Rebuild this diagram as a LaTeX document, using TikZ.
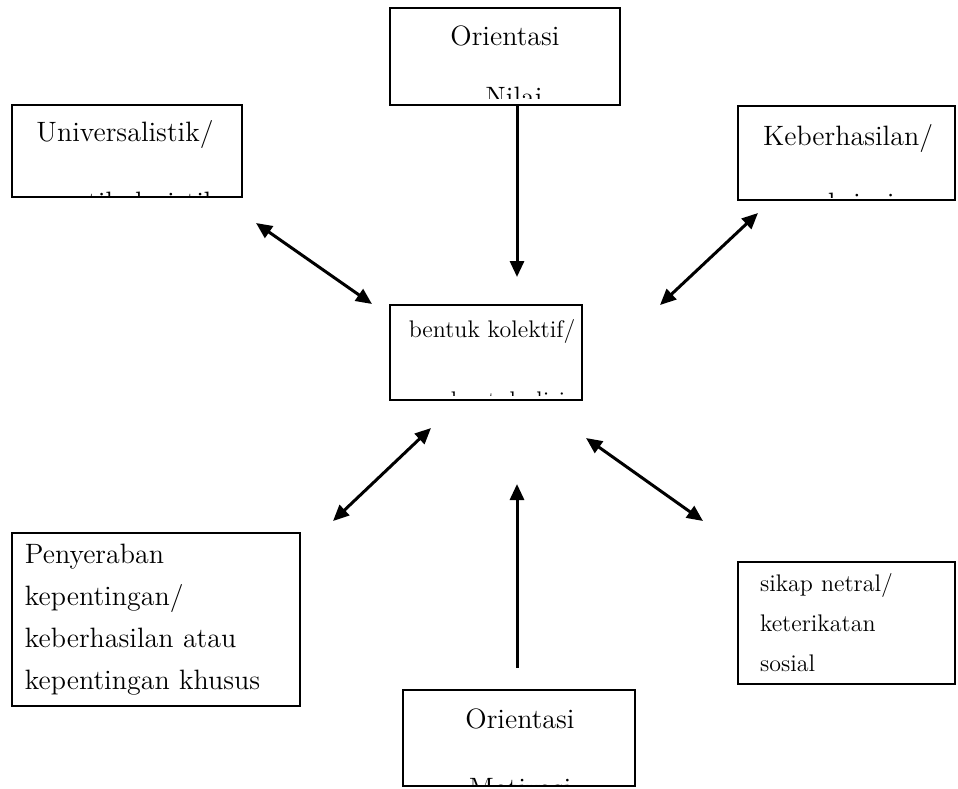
\documentclass[tikz,border=0pt]{standalone}
\usepackage{tikz}
\usetikzlibrary{arrows.meta}

\begin{document}
\begin{tikzpicture}[x=0.5pt,y=-0.5pt,
		kotak/.style={draw,line width=1pt,inner sep=0pt},
		teks/.style={font=\fontsize{14}{21}\selectfont,anchor=base,inner sep=0pt},
		kecil/.style={font=\fontsize{12}{20}\selectfont},
		isi/.style={font=\fontsize{14}{21}\selectfont,align=left},
		panah/.style={line width=1.5pt,-{Triangle[length=8pt,width=7pt]}},
		panahdua/.style={line width=1.5pt,{Triangle[length=8pt,width=7pt]}-{Triangle[length=8pt,width=7pt]}}]
		
		\useasboundingbox (0,0) rectangle (958,788);
		
		% --- boxes whose second line is cut off ---
		\node[kotak,minimum width=115pt,minimum height=48.5pt] (nilai) at (505,56.5) {};
		\node[kotak,minimum width=115pt,minimum height=46pt]   (univ)  at (127,151) {};
		\node[kotak,minimum width=108.5pt,minimum height=47pt] (hasil) at (846.5,153) {};
		\node[kotak,minimum width=96pt,minimum height=47.5pt]  (kolektif) at (486,352.5) {};
		\node[kotak,minimum width=116pt,minimum height=48pt]   (motivasi) at (519,738) {};
		
		% texts, clipped a little above the lower border
		\begin{scope}
			\clip (nilai.north west) rectangle ([yshift=4pt]nilai.south east);
			\node[teks] (nilai1) at (505,45) {Orientasi};
			\node[teks] (nilai2) at (514,106) {Nilai};
		\end{scope}
		\begin{scope}
			\clip (univ.north west) rectangle ([yshift=1.5pt]univ.south east);
			\node[teks] (univ1) at (125,141) {Universalistik/};
			\node[teks] (univ2) at (133,211) {partikularistik};
		\end{scope}
		\begin{scope}
			\clip (hasil.north west) rectangle ([yshift=2pt]hasil.south east);
			\node[teks] (hasil1) at (848,145) {Keberhasilan/};
			\node[teks] (hasil2) at (849,212) {askripsi};
		\end{scope}
		\begin{scope}
			\clip (kolektif.north west) rectangle ([yshift=3pt]kolektif.south east);
			\node[teks,kecil] (kolektif1) at (492,337) {bentuk kolektif/};
			\node[teks,kecil] (kolektif2) at (508,408) {bentuk diri};
		\end{scope}
		\begin{scope}
			\clip (motivasi.north west) rectangle ([yshift=1.5pt]motivasi.south east);
			\node[teks] (motivasi1) at (520,728) {Orientasi};
			\node[teks] (motivasi2) at (520,797) {Motivasi};
		\end{scope}
		
		% --- boxes with full text ---
		\node[kotak,isi,text width=131pt,inner xsep=6.5pt,minimum height=86.5pt] (serap) at (156,619.5)
		{Penyeraban\\ kepentingan/\\ keberhasilan atau\\ kepentingan khusus};
		\node[kotak,isi,kecil,text width=86.5pt,inner xsep=11pt,minimum height=61pt] (netral) at (846.5,623)
		{sikap netral/\\ keterikatan\\ sosial};
		
		% free ends of the arrows
		\coordinate (ujungA) at (517,277);
		\coordinate (pangkalB) at (517,668);
		\coordinate (ujungB) at (517,484);
		\coordinate (kiA) at (256,223);  \coordinate (kiB) at (372,304);
		\coordinate (kaA) at (758,213);  \coordinate (kaB) at (660,305);
		\coordinate (kbA) at (431,428);  \coordinate (kbB) at (333,521);
		\coordinate (knA) at (586,438);  \coordinate (knB) at (703,521);
		
		% --- arrows ---
		\draw[panah] ([xshift=6pt]nilai.south) -- (ujungA);
		\draw[panah] (pangkalB) -- (ujungB);
		\draw[panahdua] (kiA) -- (kiB);
		\draw[panahdua] (kaA) -- (kaB);
		\draw[panahdua] (kbA) -- (kbB);
		\draw[panahdua] (knA) -- (knB);
		
	\end{tikzpicture}
\end{document}
